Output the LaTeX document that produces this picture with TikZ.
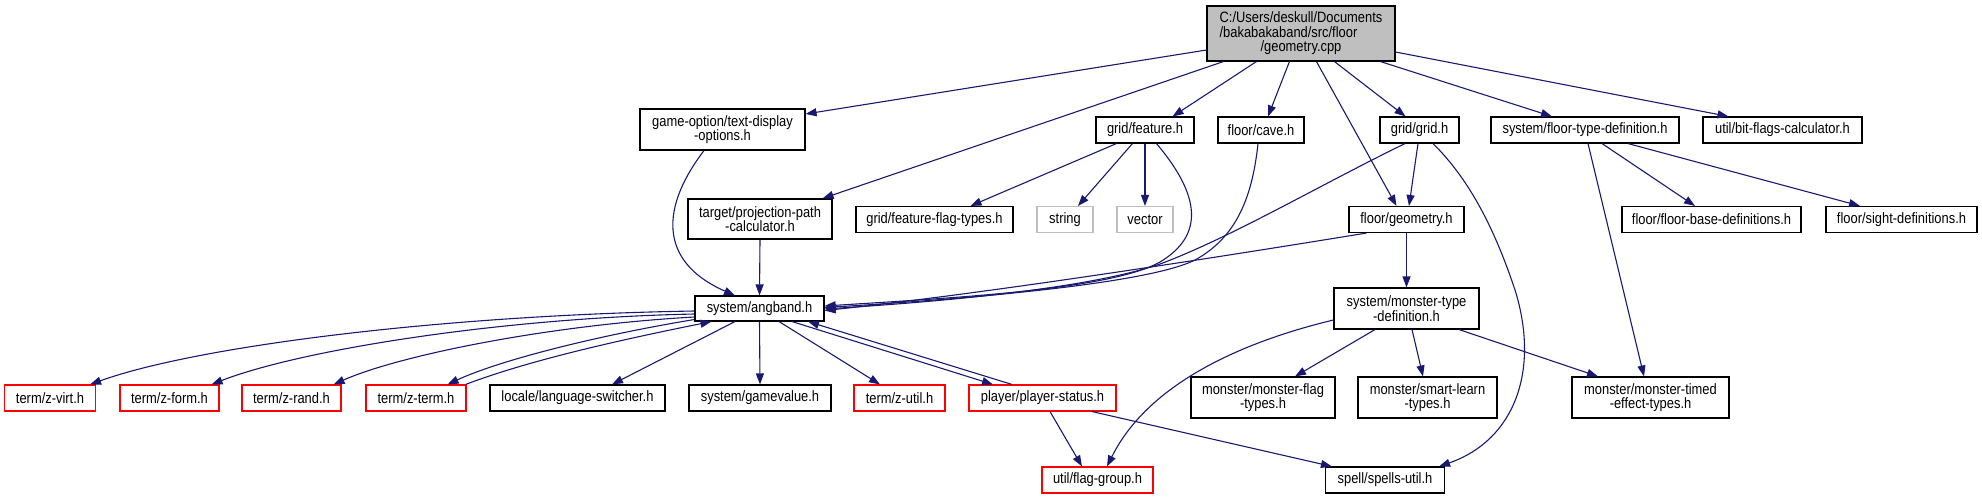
\documentclass[tikz,border=0pt]{standalone}
\usepackage{fontspec}
\newfontfamily\dox[FakeStretch=0.86]{Liberation Sans}
\usetikzlibrary{arrows.meta,calc}
\definecolor{edgeblue}{RGB}{25,25,112}
\definecolor{rootgray}{RGB}{191,191,191}
\definecolor{nodered}{RGB}{255,0,0}
\definecolor{sysgray}{RGB}{191,191,191}
\begin{document}
\begin{tikzpicture}[x=1pt,y=-1pt,
  box/.style={draw=black, line width=1.1pt, fill=white, inner sep=0pt, align=center,
    font=\dox\fontsize{15}{14.5}\selectfont, text=black, minimum height=26pt},
  twoline/.style={minimum height=41pt},
  redbox/.style={box, draw=nodered},
  graybox/.style={box, draw=sysgray},
  edge/.style={draw=edgeblue, line width=1.1pt, -{Triangle[length=11pt,width=8pt]}}]
\useasboundingbox (0,0) rectangle (1982,499);

% row 1
\node[box, fill=rootgray, minimum width=188pt, minimum height=55pt] (root) at (1301,33.5)
  {C:/Users/deskull/Documents\\\rlap{/bakabakaband/src/floor}\phantom{C:/Users/deskull/Documents}\\/geometry.cpp};
% row 2
\node[box, twoline, minimum width=165pt] (gameopt) at (722.5,129.5) {game-option/text-display\\-options.h};
\node[box, minimum width=98pt] (feature) at (1145,130) {grid/feature.h};
\node[box, minimum width=86pt] (cave) at (1261,130) {floor/cave.h};
\node[box, minimum width=79pt] (grid) at (1419.5,130) {grid/grid.h};
\node[box, minimum width=188pt] (floortype) at (1585,130) {system/floor-type-definition.h};
\node[box, minimum width=159pt] (bitflags) at (1782.5,130) {util/bit-flags-calculator.h};
% row 3
\node[box, minimum width=144pt, minimum height=40pt] (projection) at (760,219) {target/projection-path\\-calculator.h};
\node[box, minimum width=157pt] (featflag) at (934.5,219.5) {grid/feature-flag-types.h};
\node[graybox, minimum width=56pt] (string) at (1065,219.5) {string};
\node[graybox, minimum width=56pt] (vector) at (1145,219.5) {vector};
\node[box, minimum width=115pt] (geomh) at (1406.5,219.5) {floor/geometry.h};
\node[box, minimum width=179pt] (floorbase) at (1711.5,219.5) {floor/floor-base-definitions.h};
\node[box, minimum width=151pt] (sight) at (1901.5,219.5) {floor/sight-definitions.h};
% row 4
\node[box, minimum width=129pt, minimum height=25pt] (angband) at (759.5,308.5) {system/angband.h};
\node[box, twoline, minimum width=145pt] (monsterdef) at (1406.5,308.5) {system/monster-type\\-definition.h};
% row 5
\node[redbox, minimum width=91pt] (zvirt) at (50,398) {term/z-virt.h};
\node[redbox, minimum width=99pt] (zform) at (169.5,398) {term/z-form.h};
\node[redbox, minimum width=99pt] (zrand) at (291.5,398) {term/z-rand.h};
\node[redbox, minimum width=100pt] (zterm) at (416,398) {term/z-term.h};
\node[box, minimum width=175pt] (locale) at (577.5,398) {locale/language-switcher.h};
\node[box, minimum width=142pt] (gamevalue) at (760,398) {system/gamevalue.h};
\node[redbox, minimum width=91pt] (zutil) at (899.5,398) {term/z-util.h};
\node[redbox, minimum width=147pt] (playerstatus) at (1042.5,398) {player/player-status.h};
\node[box, twoline, minimum width=144pt] (monsterflag) at (1263,397.5) {monster/monster-flag\\-types.h};
\node[box, twoline, minimum width=139pt] (smartlearn) at (1427.5,397.5) {monster/smart-learn\\-types.h};
\node[box, twoline, minimum width=157pt] (timed) at (1650.5,397.5) {monster/monster-timed\\-effect-types.h};
% row 6
\node[redbox, minimum width=111pt] (flaggroup) at (1097.5,480) {util/flag-group.h};
\node[box, minimum width=119pt] (spells) at (1385,480) {spell/spells-util.h};

% edges from root
\draw[edge] ($(root.west)+(0,16.5)$) -- ($(gameopt.east)+(0,-15.5)$);
\draw[edge] ($(root.south west)+(17,0)$) -- ($(projection.north east)+(-10,0)$);
\draw[edge] ($(root.south west)+(50,0)$) -- ($(feature.north east)+(-22,0)$);
\draw[edge] ($(root.south west)+(83,0)$) -- ($(cave.north)+(7,0)$);
\draw[edge] ($(root.south west)+(110,0)$) -- ($(geomh.north)+(-10,0)$);
\draw[edge] ($(root.south west)+(128,0)$) -- ($(grid.north)+(-14,0)$);
\draw[edge] ($(root.south west)+(174,0)$) -- ($(floortype.north)+(-33,0)$);
\draw[edge] ($(root.east)+(0,18.5)$) -- ($(bitflags.north)+(-54,0)$);

% feature
\draw[edge] ($(feature.south west)+(21,0)$) -- ($(featflag.north)+(36,0)$);
\draw[edge] ($(feature.south west)+(37,0)$) -- ($(string.north)+(13,0)$);
\draw[edge] (feature.south) -- (vector.north);
\draw[edge] ($(feature.south west)+(61,0)$) .. controls (1200,195) and (1205,235) .. (1160,262)
  .. controls (1110,290) and (950,298) .. ($(angband.east)+(0,-2.5)$);
% cave
\draw[edge] ($(cave.south)+(-3,0)$) .. controls (1252,200) and (1235,238) .. (1195,260)
  .. controls (1145,285) and (950,300) .. ($(angband.east)+(0,-1)$);
% grid
\draw[edge] ($(grid.south)+(-14.5,0)$) .. controls (1320,185) and (1230,238) .. (1160,264)
  .. controls (1090,288) and (950,301) .. ($(angband.east)+(0,0.5)$);
\draw[edge] ($(grid.south)+(-1.5,0)$) -- ($(geomh.north)+(2.5,0)$);
\draw[edge] ($(grid.south)+(13.5,0)$) .. controls (1470,180) and (1495,230) .. (1515,290)
  .. controls (1540,370) and (1515,440) .. ($(spells.north east)+(-6,0)$);
% geometry.h
\draw[edge] ($(geomh.south west)+(18,0)$) .. controls (1250,252) and (1000,292) .. ($(angband.east)+(0,2)$);
\draw[edge] (geomh.south) -- (monsterdef.north);
% floor type
\draw[edge] ($(floortype.south)+(17,0)$) -- ($(floorbase.north)+(-16.5,0)$);
\draw[edge] ($(floortype.south)+(43,0)$) -- ($(sight.north)+(-41.5,0)$);
\draw[edge] ($(floortype.south)+(3,0)$) -- ($(timed.north)+(-6.5,0)$);
% game option, projection
\draw[edge] ($(gameopt.south)+(-18.5,0)$) .. controls (655,215) and (665,265) .. ($(angband.north)+(-24.5,0)$);
\draw[edge] (projection.south) -- (angband.north);
% monster def
\draw[edge] ($(monsterdef.west)+(0,11.5)$) .. controls (1250,340) and (1150,380) .. ($(flaggroup.north)+(9.5,0)$);
\draw[edge] ($(monsterdef.south)+(-31.5,0)$) -- ($(monsterflag.north)+(32,0)$);
\draw[edge] ($(monsterdef.south)+(5.5,0)$) -- ($(smartlearn.north)+(-4.5,0)$);
\draw[edge] ($(monsterdef.south)+(52.5,0)$) -- ($(timed.north)+(-52.5,0)$);
% angband
\draw[edge] ($(angband.west)+(0,2.5)$) .. controls (450,315) and (200,345) .. ($(zvirt.north east)+(-6,0)$);
\draw[edge] ($(angband.west)+(0,5.5)$) .. controls (500,318) and (300,350) .. ($(zform.north east)+(-8,0)$);
\draw[edge] ($(angband.west)+(0,8.5)$) .. controls (550,325) and (400,355) .. ($(zrand.north east)+(-8,0)$);
\draw[edge] ($(angband.west)+(0,11)$) .. controls (600,335) and (500,360) .. ($(zterm.north east)+(-19,0)$);
\draw[edge] ($(zterm.north east)+(-1,0)$) .. controls (530,360) and (620,340) .. ($(angband.south west)+(17,0)$);
\draw[edge] ($(angband.south)+(-24.5,0)$) -- ($(locale.north)+(34.5,0)$);
\draw[edge] (angband.south) -- (gamevalue.north);
\draw[edge] ($(angband.south)+(19.5,0)$) -- ($(zutil.north)+(-19.5,0)$);
\draw[edge] ($(angband.south)+(32.5,0)$) -- ($(playerstatus.north)+(-49.5,0)$);
\draw[edge] ($(playerstatus.north)+(-30.5,0)$) -- ($(angband.south)+(48.5,0)$);
% player status
\draw[edge] ($(playerstatus.south)+(7.5,0)$) -- ($(flaggroup.north)+(-15.5,0)$);
\draw[edge] ($(playerstatus.south)+(49.5,0)$) -- ($(spells.north west)+(7,0)$);
\end{tikzpicture}
\end{document}
